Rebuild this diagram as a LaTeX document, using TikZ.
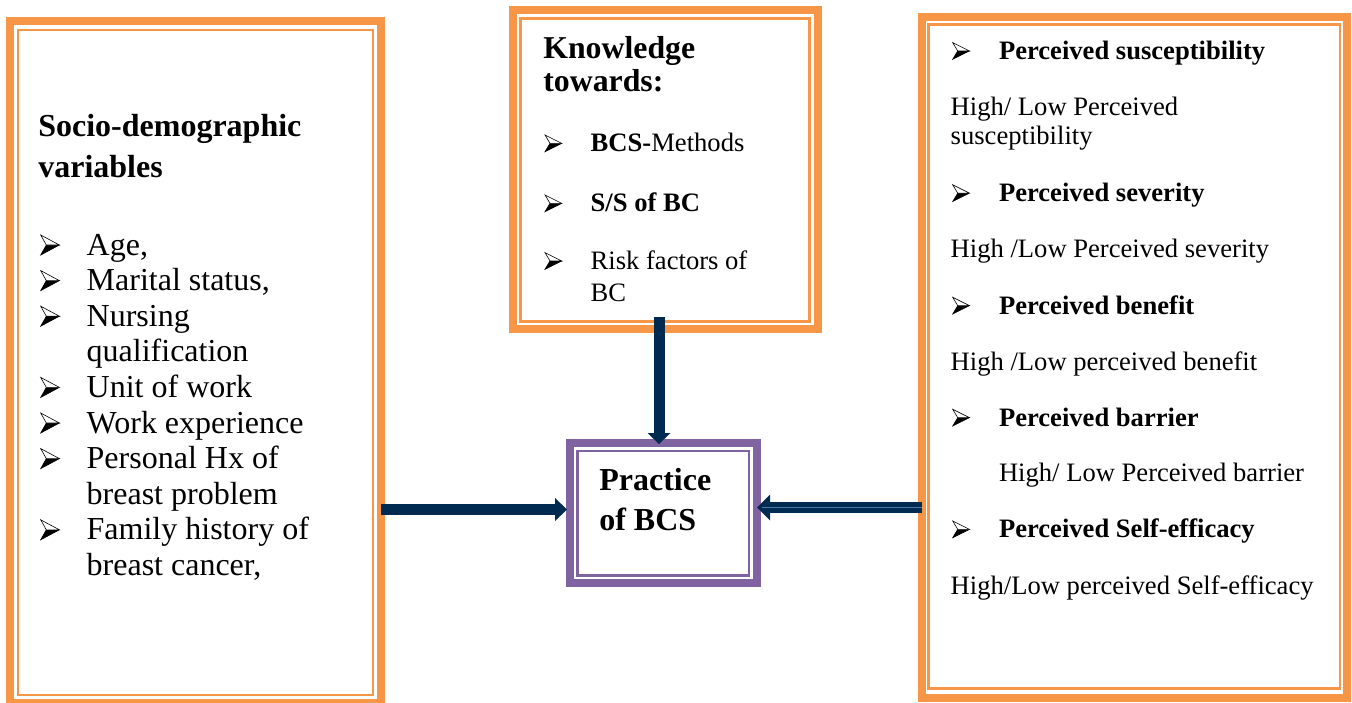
\documentclass[tikz,border=0pt]{standalone}
\usepackage{fontspec}
\setmainfont{Liberation Serif}
\usetikzlibrary{arrows.meta}
\definecolor{bord}{RGB}{247,150,70}
\definecolor{purp}{RGB}{128,100,162}
\definecolor{navy}{RGB}{0,42,80}
\definecolor{lightnavy}{RGB}{75,120,170}
\newcommand\fntL{\fontsize{32}{36}\selectfont}
\newcommand\fntK{\fontsize{31.8}{36}\selectfont}
\newcommand\fntP{\fontsize{32}{36}\selectfont}
\newcommand\fntS{\fontsize{26.6}{30}\selectfont}
\begin{document}
\begin{tikzpicture}[x=1pt,y=-1pt,
  obox/.style={draw=#1, line width=8pt, inner sep=0pt, outer sep=0pt},
  ibox/.style={draw=#1, line width=2.5pt},
  bigarrow/.style={draw=navy, line width=11pt},
  t/.style={anchor=base west, inner sep=0pt, outer sep=0pt},
  lt/.style={t, font=\fntL},
  pt/.style={t, font=\fntP\bfseries},
  st/.style={t, font=\fntS},
  arrbullet/.pic={
    \fill[black] (0,0) -- (1,-0.5) -- (0.3,-0.5) -- cycle;
    \draw[black, line width=0.6pt, fill=white, line join=miter] (0,-1) -- (1,-0.5) -- (0.3,-0.5) -- cycle;
    \draw[black, line width=0.6pt, line join=miter] (0.3,-0.5) -- (0,0) -- (1,-0.5);
  }]
\useasboundingbox (0,0) rectangle (1352,702);
\fill[white] (0,0) rectangle (1352,702);

% ---- boxes ----
\node[obox=bord, minimum width=371pt, minimum height=681.5pt] (socio) at (195.5,361.75) {};
\draw[ibox=bord] ([shift={(8,9)}]socio.north west) rectangle ([shift={(-8,-7.5)}]socio.south east);

\node[obox=bord, minimum width=304.5pt, minimum height=319pt] (know) at (665.25,169.5) {};
\draw[ibox=bord] ([shift={(7.5,8.5)}]know.north west) rectangle ([shift={(-8,-7.5)}]know.south east);

\node[obox=purp, minimum width=187.5pt, minimum height=140pt] (prac) at (663.25,513) {};
\draw[ibox=purp] ([shift={(8,8)}]prac.north west) rectangle ([shift={(-8,-7.5)}]prac.south east);

\node[obox=bord, minimum width=425.5pt, minimum height=680.5pt] (hbm) at (1134.25,357.25) {};
\draw[ibox=bord] ([shift={(7,7.5)}]hbm.north west) rectangle ([shift={(-7,-9)}]hbm.south east);

% ---- arrows ----
\draw[bigarrow, -{Triangle[length=12pt,width=23pt,line width=0pt]}]
  ([yshift=3.5pt]socio.east |- prac.west) -- ([xshift=-2.5pt,yshift=3.5pt]prac.west);
\draw[bigarrow, -{Triangle[length=13pt,width=26pt,line width=0pt]}]
  ([yshift=5.5pt]hbm.west |- prac.east) -- ([yshift=5.5pt]prac.east);
\draw[lightnavy, line width=1.2pt]
  ([yshift=5.5pt]hbm.west |- prac.east) -- ([xshift=5pt,yshift=5.5pt]prac.east);
\coordinate (dtop) at ([xshift=-6.25pt,yshift=12pt]know.south);
\draw[bigarrow, -{Triangle[length=11pt,width=23pt,line width=0pt]}]
  (dtop) -- ([yshift=-1pt]dtop |- prac.north);

% ---- left box text ----
\node[lt, font=\fntL\bfseries] (sh1) at (38.3,136.7) {Socio-demographic};
\node[lt, font=\fntL\bfseries] (sh2) at (38.3,177) {variables};
\node[lt] (s1) at (86.7,255) {Age,};
\node[lt] (s2) at (86.7,290.6) {Marital status,};
\node[lt] (s3) at (86.7,326.2) {Nursing};
\node[lt] (s4) at (86.7,361.8) {qualification};
\node[lt] (s5) at (86.7,397.4) {Unit of work};
\node[lt] (s6) at (86.7,433) {Work experience};
\node[lt] (s7) at (86.7,468.6) {Personal Hx of};
\node[lt] (s8) at (86.7,504.2) {breast problem};
\node[lt] (s9) at (86.7,539.8) {Family history of};
\node[lt] (s10) at (86.7,575.4) {breast cancer,};
\foreach \yy in {255,290.6,326.2,397.4,433,468.6,539.8}
  \pic[xscale=18.7, yscale=20] at (40.7,\yy) {arrbullet};

% ---- top box text ----
\node[t, font=\fntK\bfseries] (k1) at (543.3,58.3) {Knowledge};
\node[t, font=\fntK\bfseries] (k2) at (543.3,91.7) {towards:};
\node[st] (k3) at (590.7,151.7) {\textbf{BCS-}Methods};
\node[st] (k4) at (590.7,211.7) {\textbf{S/S of BC}};
\node[st] (k5) at (590.7,269.3) {Risk factors of};
\node[st] (k6) at (590.7,301.7) {BC};
\foreach \yy in {151.7,211.7,269.3}
  \pic[xscale=16.7, yscale=16.7] at (545,\yy) {arrbullet};

% ---- practice box text ----
\node[pt] (p1) at (599.3,490.7) {Practice};
\node[pt] (p2) at (599.3,530) {of BCS};

% ---- right box text ----
\node[st, font=\fntS\bfseries] (h1) at (999,59.3) {Perceived susceptibility};
\node[st] (h2) at (950.7,115) {High/ Low Perceived};
\node[st] (h3) at (950.7,144) {susceptibility};
\node[st, font=\fntS\bfseries] (h4) at (999,201.5) {Perceived severity};
\node[st] (h5) at (950.7,257.3) {High /Low Perceived severity};
\node[st, font=\fntS\bfseries] (h6) at (999,314) {Perceived benefit};
\node[st] (h7) at (950.7,370) {High /Low perceived benefit};
\node[st, font=\fntS\bfseries] (h8) at (999,426) {Perceived barrier};
\node[st] (h9) at (999,481.7) {High/ Low Perceived barrier};
\node[st, font=\fntS\bfseries] (h10) at (999,537.7) {Perceived Self-efficacy};
\node[st] (h11) at (950.7,594.3) {High/Low perceived Self-efficacy};
\foreach \yy in {59.3,201.5,314,426,537.7}
  \pic[xscale=16.7, yscale=16.7] at (952.7,\yy) {arrbullet};
\end{tikzpicture}
\end{document}
